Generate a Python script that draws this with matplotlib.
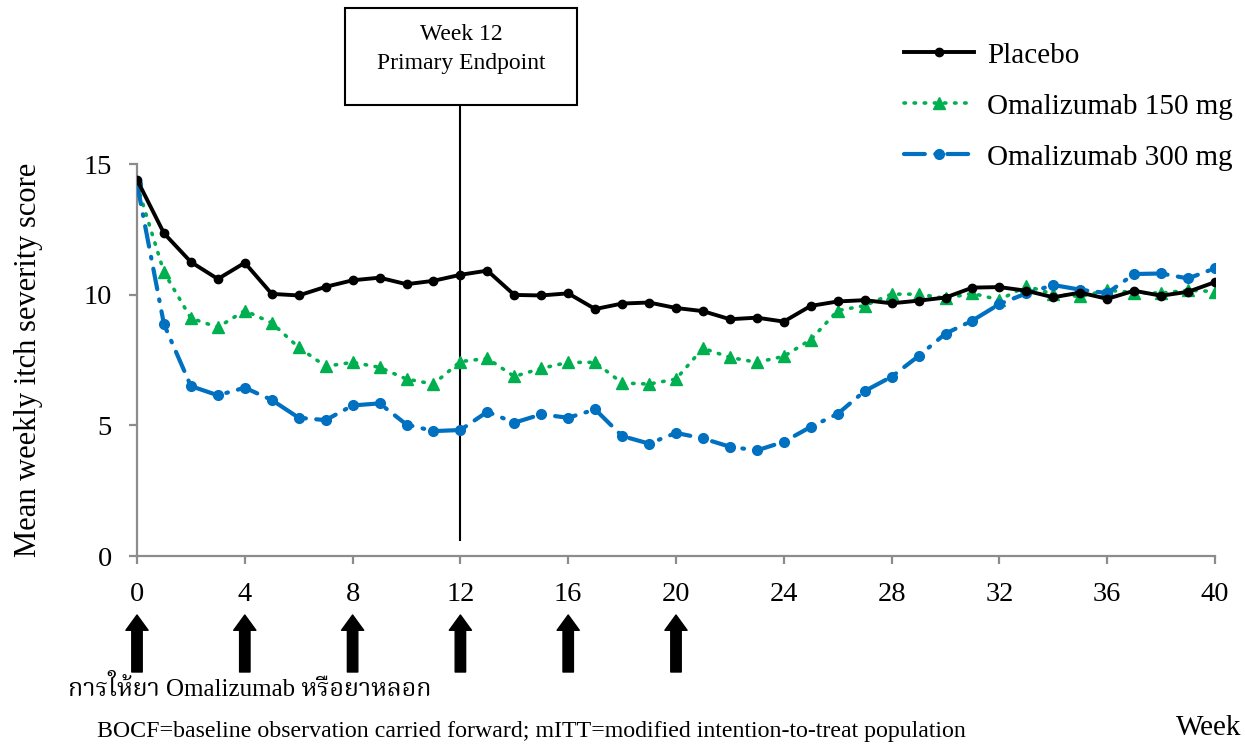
import numpy as np
import matplotlib
import matplotlib.pyplot as plt
from matplotlib import font_manager, transforms
from matplotlib.patches import Rectangle

# Data (mean weekly itch severity score, weeks 0-40)
weeks = list(range(41))
placebo = [14.40, 12.35, 11.25, 10.60, 11.22, 10.03, 9.97, 10.30, 10.55, 10.65,
           10.40, 10.53, 10.76, 10.92, 9.99, 9.97, 10.05, 9.45, 9.66, 9.70,
           9.49, 9.37, 9.06, 9.12, 8.97, 9.57, 9.74, 9.79, 9.67, 9.77,
           9.89, 10.27, 10.29, 10.15, 9.90, 10.08, 9.84, 10.15, 9.96, 10.11, 10.48]
oma150 = [14.20, 10.86, 9.10, 8.75, 9.39, 8.92, 7.98, 7.26, 7.41, 7.22,
          6.77, 6.58, 7.44, 7.56, 6.87, 7.18, 7.41, 7.41, 6.62, 6.58,
          6.77, 7.95, 7.60, 7.41, 7.64, 8.28, 9.39, 9.58, 10.02, 10.02,
          9.86, 10.05, 9.80, 10.33, 10.02, 9.93, 10.17, 10.08, 10.06, 10.17, 10.12]
oma300 = [14.25, 8.87, 6.50, 6.15, 6.44, 5.97, 5.29, 5.20, 5.76, 5.84,
          5.03, 4.78, 4.82, 5.52, 5.10, 5.42, 5.29, 5.61, 4.59, 4.30,
          4.71, 4.50, 4.18, 4.04, 4.37, 4.94, 5.44, 6.31, 6.86, 7.65,
          8.51, 9.01, 9.64, 10.05, 10.37, 10.19, 10.06, 10.79, 10.81, 10.62, 11.01]
series_labels = ["Placebo", "Omalizumab 150 mg", "Omalizumab 300 mg"]
xticks = list(range(0, 41, 4))
yticks = [0, 5, 10, 15]
dose_weeks = [0, 4, 8, 12, 16, 20]

# Thai needs a font that has the glyphs, pick whatever is installed
available = {f.name for f in font_manager.fontManager.ttflist}
thai_candidates = ["Noto Serif Thai", "Noto Sans Thai", "Noto Sans Thai Looped", "Loma",
                   "Garuda", "Kinnari", "Norasi", "Sawasdee", "Laksaman", "Waree",
                   "Umpush", "TlwgTypo", "Tlwg Typo", "Purisa", "FreeSerif", "FreeSans"]
thai_fonts = [f for f in thai_candidates if f in available]
serif = "Liberation Serif"
plt.rcParams['font.family'] = [serif] + thai_fonts + ["DejaVu Sans"]

fig = plt.figure(figsize=(12.45, 7.44), dpi=100)
ax = fig.add_axes([137 / 1245, 1 - 556 / 744, 1078 / 1245, 392 / 744])

ax.plot(weeks, placebo, color='black', lw=2.8, marker='o', markersize=6,
        label=series_labels[0], zorder=4)
ax.plot(weeks, oma150, color='#00B050', lw=2.6, linestyle=(0, (0.4, 2.4)),
        dash_capstyle='round', marker='^', markersize=8, label=series_labels[1], zorder=3)
ax.plot(weeks, oma300, color='#0070C0', lw=3, linestyle=(0, (5, 2.5, 0.4, 2.5)),
        dash_capstyle='round', marker='o', markersize=7, label=series_labels[2], zorder=3)

ax.set_xlim(0, 40)
ax.set_ylim(0, 15)
ax.set_xticks(xticks)
ax.set_yticks(yticks)
for s in ['top', 'right']:
    ax.spines[s].set_visible(False)
for s in ['left', 'bottom']:
    ax.spines[s].set_color('#8c8c8c')
    ax.spines[s].set_linewidth(1.6)
ax.tick_params(axis='both', colors='#8c8c8c', width=1.6, length=6, labelsize=20.5,
               labelcolor='black')
ax.tick_params(axis='x', pad=13)
ax.tick_params(axis='y', pad=12)
ax.set_ylabel("Mean weekly itch severity score", fontsize=22, labelpad=29)

# week 12 primary endpoint marker
ax.plot([12, 12], [0.6, 17.2], color='black', lw=1.5, clip_on=False, zorder=2)
fig.patches.append(Rectangle((345 / 1245, 1 - 105 / 744), 232 / 1245, 97 / 744,
                             transform=fig.transFigure, fill=False, ec='black', lw=1.5))
fig.text(461 / 1245, 1 - 35 / 744, "Week 12", ha='center', va='center', fontsize=17)
fig.text(461 / 1245, 1 - 63 / 744, "Primary Endpoint", ha='center', va='center', fontsize=17)

# dosing arrows under the axis
blend = transforms.blended_transform_factory(ax.transData, fig.transFigure)
for w in dose_weeks:
    ax.annotate('', xy=(w, 1 - 615 / 744), xytext=(w, 1 - 672 / 744),
                xycoords=blend, textcoords=blend, annotation_clip=False,
                arrowprops=dict(arrowstyle='simple,head_length=1.1,head_width=1.6,tail_width=0.75',
                                mutation_scale=10, fc='black', ec='black',
                                shrinkA=0, shrinkB=0))

fig.text(68 / 1245, 1 - 688 / 744, "การให้ยา Omalizumab หรือยาหลอก", ha='left', va='center',
         fontsize=18)
fig.text(97 / 1245, 1 - 732 / 744,
         "BOCF=baseline observation carried forward; mITT=modified intention-to-treat population",
         ha='left', va='center', fontsize=17.2)
fig.text(1241 / 1245, 1 - 728 / 744, "Week", ha='right', va='center', fontsize=21)

fig.legend(loc='upper left', bbox_to_anchor=(878 / 1245, 1 - 16 / 744), frameon=False,
           fontsize=21, handlelength=2.4, labelspacing=0.84, handletextpad=0.45)

fig.savefig("out.png", dpi=100)
